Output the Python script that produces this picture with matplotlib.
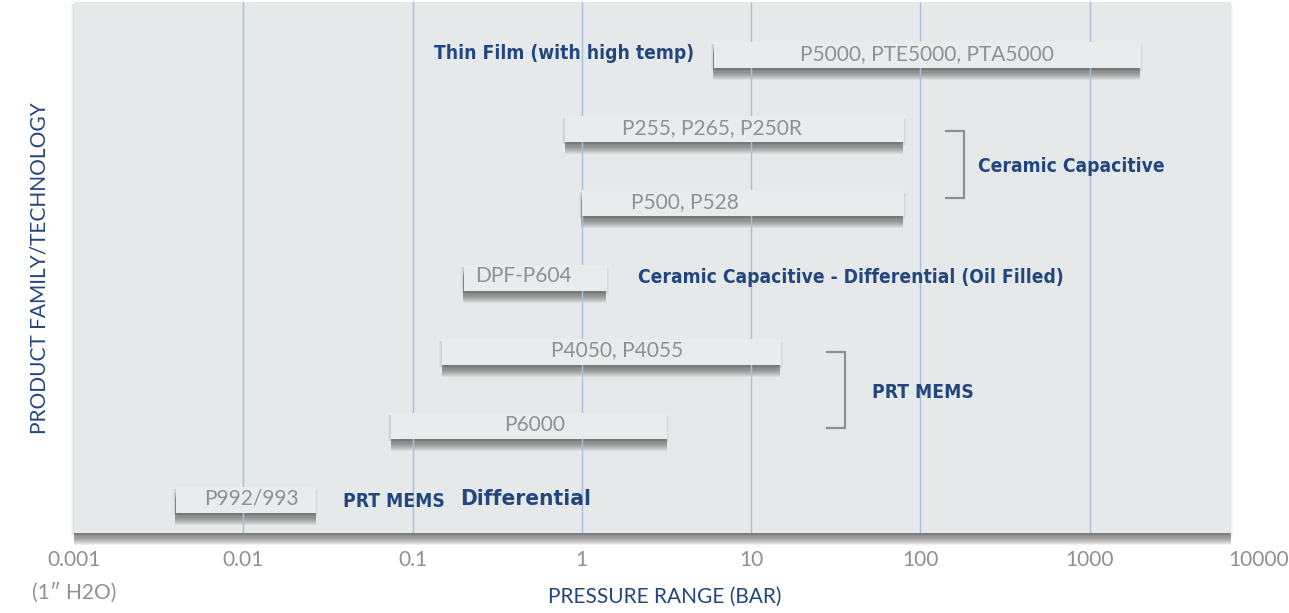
import matplotlib
matplotlib.use("Agg")
import matplotlib.pyplot as plt
import matplotlib.patheffects as pe
from matplotlib.patches import Rectangle
from matplotlib.transforms import blended_transform_factory
from matplotlib import font_manager as fm

# ---------------- data ----------------
products = ["P5000, PTE5000, PTA5000", "P255, P265, P250R", "P500, P528",
            "DPF-P604", "P4050, P4055", "P6000", "P992/993"]
range_min = [6, 0.8, 1, 0.2, 0.15, 0.075, 0.004]
range_max = [2000, 80, 80, 1.4, 15, 3.2, 0.027]

tick_values = [0.001, 0.01, 0.1, 1, 10, 100, 1000, 10000]
tick_labels = ["0.001", "0.01", "0.1", "1", "10", "100", "1000", "10000"]
grid_values = [0.01, 0.1, 1, 10, 100, 1000]

# ---------------- styles ----------------
BLUE = "#23467e"
GREY_TXT = "#8e9092"
PANEL = "#e5e9e9"
BAR = "#e9ecec"
GRID = "#a9bfd8"
BRACKET = "#8f8f8f"
REG = ["Lato", "DejaVu Sans"]

# pick a condensed bold face if one is installed
cond_family = None
cond_stretch = "normal"
for f in fm.fontManager.ttflist:
    if f.weight in (700, "bold") and (f.stretch in ("condensed", "semi-condensed", "extra-condensed")
                                      or "condensed" in f.name.lower() or "narrow" in f.name.lower()):
        cond_family = f.name
        cond_stretch = f.stretch
        break
if cond_family is not None:
    COND = [cond_family, "Roboto", "DejaVu Sans"]
    cscale = 0.81
else:
    COND = ["Roboto", "DejaVu Sans"]
    cscale = 0.70
label_dx_pt = [0, -16.5, -42, -8.6, 4, 4, 3.6]

PX = 0.72  # points per pixel at 100 dpi


def soft_shadow(strength=1.0):
    fx = []
    for dy in range(5, 13):
        fx.append(pe.SimplePatchShadow(offset=(-0.5 * PX, -dy * PX), shadow_rgbFace="k",
                                       alpha=0.055 * strength))
    for dx in (1, 2, 3):
        fx.append(pe.SimplePatchShadow(offset=(-dx * PX, -2 * PX), shadow_rgbFace="k",
                                       alpha=0.035 * strength))
    for dx in (1, 2):
        fx.append(pe.SimplePatchShadow(offset=(dx * PX, -3 * PX), shadow_rgbFace="k",
                                       alpha=0.03 * strength))
    return fx


fig = plt.figure(figsize=(12.89, 6.13), dpi=100)
W, H = 1289, 613
ax = fig.add_axes([74 / W, (H - 533) / H, (1231 - 74) / W, (533 - 2) / H])
ax.set_xscale("log")
ax.set_xlim(0.001, 6840)
ax.set_ylim(6.44, -0.714)
ax.set_facecolor(PANEL)
for s in ax.spines.values():
    s.set_visible(False)
ax.set_xticks([])
ax.set_yticks([])
ax.minorticks_off()
ax.tick_params(which="both", length=0, labelbottom=False, labelleft=False)

# panel shadow
ax.patch.set_path_effects(soft_shadow(1.1) + [pe.Normal()])

# grid lines (over bar shadows, under bars)
for g in grid_values:
    ax.axvline(g, color=GRID, lw=1.0, zorder=2.5)

# bars
bar_h = 0.35
for i, (name, lo, hi) in enumerate(zip(products, range_min, range_max)):
    sh = Rectangle((lo, i - bar_h / 2), hi - lo, bar_h, facecolor=BAR,
                   edgecolor="none", zorder=2)
    sh.set_path_effects(soft_shadow(1.0))  # shadow only, patch itself not drawn
    ax.add_patch(sh)
    r = Rectangle((lo, i - bar_h / 2), hi - lo, bar_h, facecolor=BAR,
                  edgecolor="none", zorder=3)
    ax.add_patch(r)
    xc = (lo * hi) ** 0.5
    ax.annotate(name, (xc, i), xytext=(label_dx_pt[i], 1), textcoords="offset points",
                ha="center", va="center", color=GREY_TXT, fontsize=15,
                family=REG, zorder=4)

# technology labels
ckw = dict(color=BLUE, fontweight="bold", family=COND, fontstretch=cond_stretch, zorder=5)
ax.text(4.6, -0.02, "Thin Film (with high temp)", ha="right", va="center",
        fontsize=17 * cscale, **ckw)
ax.text(2.16, 3.0, "Ceramic Capacitive - Differential (Oil Filled)", ha="left",
        va="center", fontsize=17 * cscale, **ckw)
ax.text(218, 1.5, "Ceramic Capacitive", ha="left", va="center", fontsize=17 * cscale, **ckw)
ax.text(52, 4.55, "PRT MEMS", ha="left", va="center", fontsize=17 * cscale, **ckw)
ax.text(0.039, 6.02, "PRT MEMS", ha="left", va="center", fontsize=17 * cscale, **ckw)
ax.text(0.192, 5.98, "Differential", ha="left", va="center", fontsize=20 * cscale, **ckw)

# brackets
ax.plot([141, 180, 180, 141], [1.03, 1.03, 1.93, 1.93], color=BRACKET, lw=1.6,
        solid_joinstyle="miter", zorder=5)
ax.plot([28, 36, 36, 28], [4.0, 4.0, 5.03, 5.03], color=BRACKET, lw=1.6,
        solid_joinstyle="miter", zorder=5)

# x tick labels (drawn outside axes, including 10000 beyond panel)
trans = blended_transform_factory(ax.transData, ax.transAxes)
for v, lab in zip(tick_values, tick_labels):
    ax.text(v, -0.051, lab, transform=trans, ha="center", va="center",
            color=GREY_TXT, fontsize=15, family=REG, clip_on=False)
ax.text(0.001, -0.113, "(1\u2033 H2O)", transform=trans, ha="center", va="center",
        color=GREY_TXT, fontsize=15, family=REG, clip_on=False)

fig.text(665 / W, 1 - 597 / H, "PRESSURE RANGE (BAR)", ha="center", va="center",
         color=BLUE, fontsize=15, family=REG)
fig.text(40 / W, 1 - 268 / H, "PRODUCT FAMILY/TECHNOLOGY", ha="center", va="center",
         rotation=90, color=BLUE, fontsize=15, family=REG)

fig.savefig("out.png", dpi=100)
